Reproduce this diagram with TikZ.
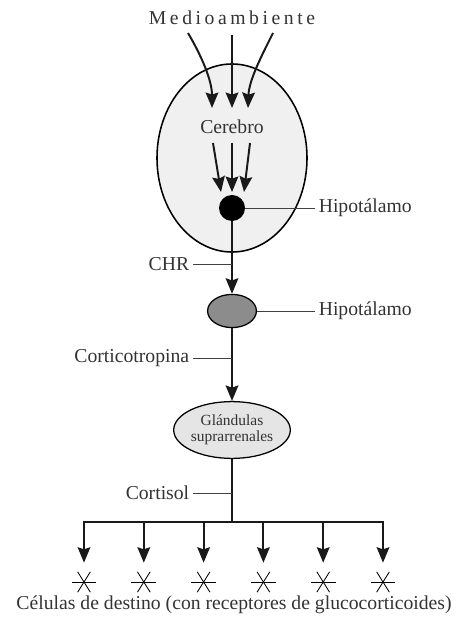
\documentclass[tikz,border=0pt]{standalone}
\usepackage{fontspec}
\setmainfont{Liberation Serif}
\usetikzlibrary{shapes.geometric,arrows.meta}

\begin{document}
\begin{tikzpicture}[x=0.025cm,y=-0.025cm,
	flow/.style={line width=1.4pt, black!90, -{Stealth[length=11pt,width=9pt,inset=1.5pt]}},
	tag/.style={line width=0.6pt, black!75},
	lbl/.style={text=black!80, font=\fontsize{14}{16}\selectfont, inner sep=2.5pt},
	target/.style={inner sep=0pt, minimum width=0.64cm, minimum height=0.95cm,
		path picture={
			\draw[line width=0.6pt] ([shift={(0:0.31cm)}]path picture bounding box.center) -- ([shift={(180:0.31cm)}]path picture bounding box.center);
			\draw[line width=0.6pt] ([shift={(58:0.3cm)}]path picture bounding box.center) -- ([shift={(238:0.3cm)}]path picture bounding box.center);
			\draw[line width=0.6pt] ([shift={(122:0.3cm)}]path picture bounding box.center) -- ([shift={(302:0.3cm)}]path picture bounding box.center);
		}}]
	
	\useasboundingbox (0,0) rectangle (459,622);
	
	% Main nodes
	\node[ellipse, draw, line width=1.1pt, fill=black!6, minimum width=3.75cm, minimum height=4.7cm] (brain) at (232,158) {};
	\node[lbl] (cerebro) at (232,127) {Cerebro};
	\node[circle, fill=black, minimum size=0.65cm, inner sep=0pt] (hypo) at (232,208) {};
	\node[ellipse, draw, line width=0.9pt, fill=black!45, minimum width=1.22cm, minimum height=0.83cm] (pit) at (232,311) {};
	\node[ellipse, draw, line width=0.9pt, fill=black!10, minimum width=2.5cm, minimum height=1.42cm, inner sep=0pt,
		align=center, text=black!80, font=\fontsize{11}{11.5}\selectfont] (adrenal) at (232,430) {Glándulas\\suprarrenales};
	
	% Top labels
	\node[lbl, font=\fontsize{14}{16}\selectfont\addfontfeature{LetterSpace=18}] (env) at (232,18) {Medioambiente};
	\node[lbl, anchor=west] (hypolbl) at (315,208) {Hipotálamo};
	\node[lbl, anchor=west] (pitlbl) at (315,311) {Hipotálamo};
	
	% Side labels
	\node[lbl, anchor=east] (chr) at (193,264) {CHR};
	\node[lbl, anchor=east] (acth) at (193,358) {Corticotropina};
	\node[lbl, anchor=east] (cort) at (193,493) {Cortisol};
	\node[lbl] (cells) at (234,605) {Células de destino (con receptores de glucocorticoides)};
	
	% Coordinates for arrows
	\coordinate (inA) at (188,33);
	\coordinate (inB) at (232,35);
	\coordinate (inC) at (273,33);
	\coordinate (outA) at (212,108);
	\coordinate (outB) at (232,108);
	\coordinate (outC) at (248,108);
	\coordinate (upA) at (213,143);
	\coordinate (upB) at (232,143);
	\coordinate (upC) at (250,143);
	\coordinate (dnA) at (221,192);
	\coordinate (dnB) at (232,192);
	\coordinate (dnC) at (244,192);
	\coordinate (chrpt) at (232,264);
	\coordinate (acthpt) at (232,358);
	\coordinate (cortpt) at (232,493);
	\coordinate (split) at (232,522);
	\coordinate (splitL) at (84,522);
	\coordinate (splitR) at (383,522);
	
	% Environment into brain
	\draw[flow] (inA) .. controls (201,55) and (212,80) .. (outA);
	\draw[flow] (inB) -- (outB);
	\draw[flow] (inC) .. controls (262,55) and (249,80) .. (outC);
	
	% Brain to hypothalamus
	\draw[flow] (upA) -- (dnA);
	\draw[flow] (upB) -- (dnB);
	\draw[flow] (upC) -- (dnC);
	
	% Axis
	\draw[flow] (hypo.south) -- (pit.north);
	\draw[flow] (pit.south) -- (adrenal.north);
	\draw[line width=1.4pt, black!90] (adrenal.south) -- (split);
	\draw[line width=1.4pt, black!90] (splitL) -- (splitR);
	
	% Label lines
	\draw[tag] (hypo.east) -- (hypolbl.west);
	\draw[tag] (pit.east) -- (pitlbl.west);
	\draw[tag] (chr.east) -- (chrpt);
	\draw[tag] (acth.east) -- (acthpt);
	\draw[tag] (cort.east) -- (cortpt);
	
	% Target cells
	\foreach \i in {0,...,5} {
		\node[target] (t\i) at (84+59.8*\i,582) {};
		\draw[flow] (84+59.8*\i,521.3) -- (t\i.north);
	}
	
\end{tikzpicture}
\end{document}
